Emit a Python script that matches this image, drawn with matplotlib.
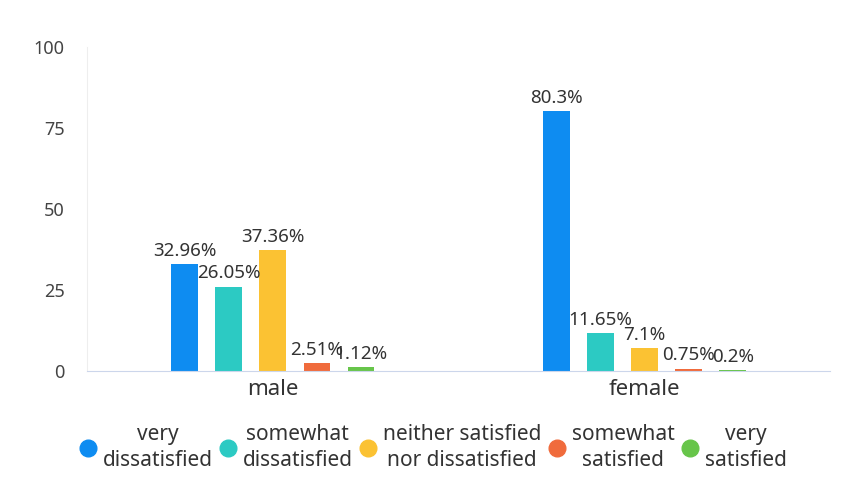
import numpy as np
import matplotlib
matplotlib.use('Agg')
from matplotlib import pyplot as plt
from matplotlib.lines import Line2D

plt.rcParams['font.family'] = ['Noto Sans', 'DejaVu Sans']

genders = ['male', 'female']
levels = ['very\ndissatisfied', 'somewhat\ndissatisfied', 'neither satisfied\nnor dissatisfied',
          'somewhat\nsatisfied', 'very\nsatisfied']
male = [32.96, 26.05, 37.36, 2.51, 1.12]
female = [80.3, 11.65, 7.1, 0.75, 0.2]
colors = ['#0E8CF1', '#2CCAC3', '#FBC233', '#F06B3C', '#67C54A']

fig = plt.figure(figsize=(8.41, 4.84), dpi=100)
ax = fig.add_axes([0.1034, 0.2335, 0.884, 0.6695])

x = np.arange(len(genders))
step = 0.1186
width = 0.072
for i, name in enumerate(levels):
    vals = [male[i], female[i]]
    pos = x + (i - 2) * step
    ax.bar(pos, vals, width, color=colors[i], label=name)
    for p, v in zip(pos, vals):
        ax.text(p, v + 1.3, f'{v:g}%', ha='center', va='bottom', fontsize=13.5, color='#333333')

ax.set_xlim(-0.5, 1.5)
ax.set_ylim(0, 100)
ax.set_yticks([0, 25, 50, 75, 100])
ax.set_xticks(x)
ax.set_xticklabels(genders, fontsize=16, color='#333333')
ax.tick_params(axis='y', length=0, labelsize=13, labelcolor='#444444', pad=16)
ax.tick_params(axis='x', length=0, pad=6)
for s in ['top', 'right']:
    ax.spines[s].set_visible(False)
ax.spines['left'].set_color('#eeeeee')
ax.spines['bottom'].set_color('#ccd6eb')

handles = [Line2D([], [], marker='o', linestyle='', markersize=12, color=c) for c in colors]
leg = fig.legend(handles, levels, loc='center', bbox_to_anchor=(0.515, 0.075), ncol=5,
                 frameon=False, fontsize=15, handlelength=0.8, handletextpad=0.3,
                 columnspacing=0.35, labelcolor='#333333')
for t in leg.get_texts():
    t.set_multialignment('center')
    t.set_linespacing(1.35)

fig.savefig('out.png', dpi=100)
